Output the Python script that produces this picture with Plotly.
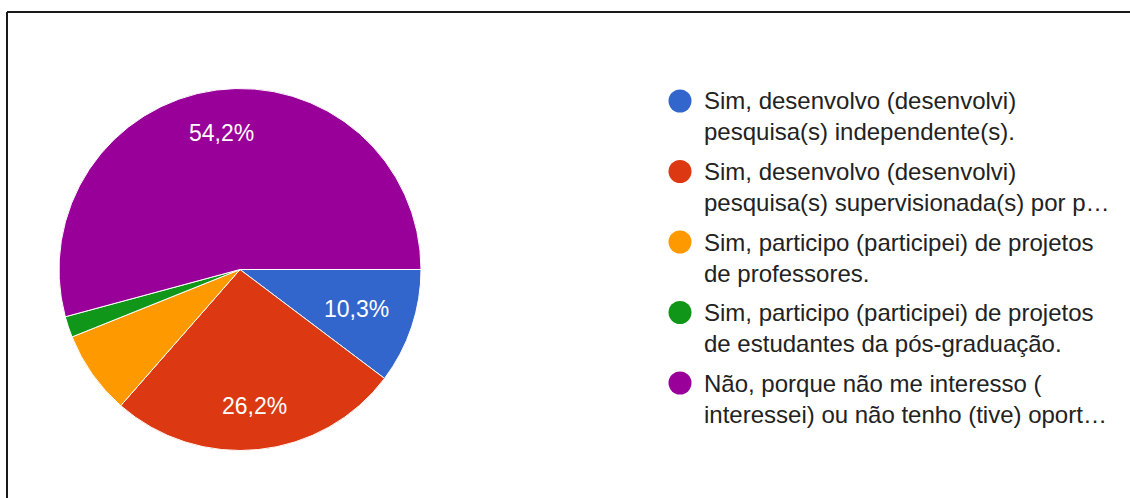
import math
import plotly.graph_objects as go

W, H = 1130, 498

# ---- data ----
categories = [
    "Sim, desenvolvo (desenvolvi) pesquisa(s) independente(s).",
    "Sim, desenvolvo (desenvolvi) pesquisa(s) supervisionada(s) por professores.",
    "Sim, participo (participei) de projetos de professores.",
    "Sim, participo (participei) de projetos de estudantes da pós-graduação.",
    "Não, porque não me interesso (interessei) ou não tenho (tive) oportunidade.",
]
legend_line1 = [
    "Sim, desenvolvo (desenvolvi)",
    "Sim, desenvolvo (desenvolvi)",
    "Sim, participo (participei) de projetos",
    "Sim, participo (participei) de projetos",
    "Não, porque não me interesso (",
]
legend_line2 = [
    "pesquisa(s) independente(s).",
    "pesquisa(s) supervisionada(s) por p…",
    "de professores.",
    "de estudantes da pós-graduação.",
    "interessei) ou não tenho (tive) oport…",
]
counts = [11, 28, 8, 2, 58]
colors = ["#3366CC", "#DC3912", "#FF9900", "#109618", "#990099"]

FONT = "Liberation Sans, Arial, sans-serif"
total = sum(counts)
shares = [c / total for c in counts]
pct_text = [(f"{100 * s:.1f}%".replace(".", ",") if s >= 0.1 else "") for s in shares]


def px_x(x):
    return x / W


def px_y(y):
    return 1 - y / H


cx, cy, r = 240, 269.5, 181
start_deg = 90  # first slice starts at 3 o'clock, clockwise

fig = go.Figure()
fig.add_trace(go.Pie(
    labels=categories,
    values=counts,
    textinfo="none",
    marker=dict(colors=colors, line=dict(color="white", width=1)),
    sort=False,
    direction="clockwise",
    rotation=start_deg,
    hoverinfo="label+percent",
    showlegend=False,
    domain=dict(x=[px_x(cx - r), px_x(cx + r)], y=[px_y(cy + r), px_y(cy - r)]),
))

annotations = []
# percentage labels placed at slice mid-angles (derived from the data)
cum = 0.0
for s, t in zip(shares, pct_text):
    mid = cum + s / 2
    cum += s
    if not t:
        continue
    ang = math.radians(mid * 360)  # clockwise from 3 o'clock (screen coords)
    frac = 0.76 if s > 0.2 else 0.68
    lx = cx + frac * r * math.cos(ang)
    ly = cy + frac * r * math.sin(ang)
    annotations.append(dict(
        text=t, xref="paper", yref="paper", x=px_x(lx), y=px_y(ly),
        xanchor="center", yanchor="middle", showarrow=False,
        font=dict(family=FONT, size=23, color="white"),
    ))

shapes = [
    dict(type="line", xref="paper", yref="paper", x0=px_x(7), x1=px_x(W + 5),
         y0=px_y(12), y1=px_y(12), line=dict(color="#1a1a1a", width=2)),
    dict(type="line", xref="paper", yref="paper", x0=px_x(7), x1=px_x(7),
         y0=px_y(12), y1=px_y(H + 5), line=dict(color="#1a1a1a", width=2)),
]
leg_x0, leg_y0, leg_step, line_h = 680, 101, 70.5, 31
rad = 11.5
for i, (l1, l2) in enumerate(zip(legend_line1, legend_line2)):
    yc = leg_y0 + i * leg_step
    shapes.append(dict(type="circle", xref="paper", yref="paper",
                       x0=px_x(leg_x0 - rad), x1=px_x(leg_x0 + rad),
                       y0=px_y(yc + rad), y1=px_y(yc - rad),
                       fillcolor=colors[i], line=dict(width=0)))
    for j, t in enumerate([l1, l2]):
        annotations.append(dict(
            text=t, xref="paper", yref="paper", x=px_x(702), y=px_y(yc + j * line_h),
            xanchor="left", yanchor="middle", showarrow=False,
            font=dict(family=FONT, size=24, color="#222222"),
        ))

fig.update_layout(
    width=W, height=H,
    margin=dict(l=0, r=0, t=0, b=0),
    paper_bgcolor="white",
    plot_bgcolor="white",
    shapes=shapes,
    annotations=annotations,
)

fig.write_html(
    "out.html",
    config={"displayModeBar": False},
    post_script="document.body.style.margin='0';document.body.style.overflow='hidden';",
)
